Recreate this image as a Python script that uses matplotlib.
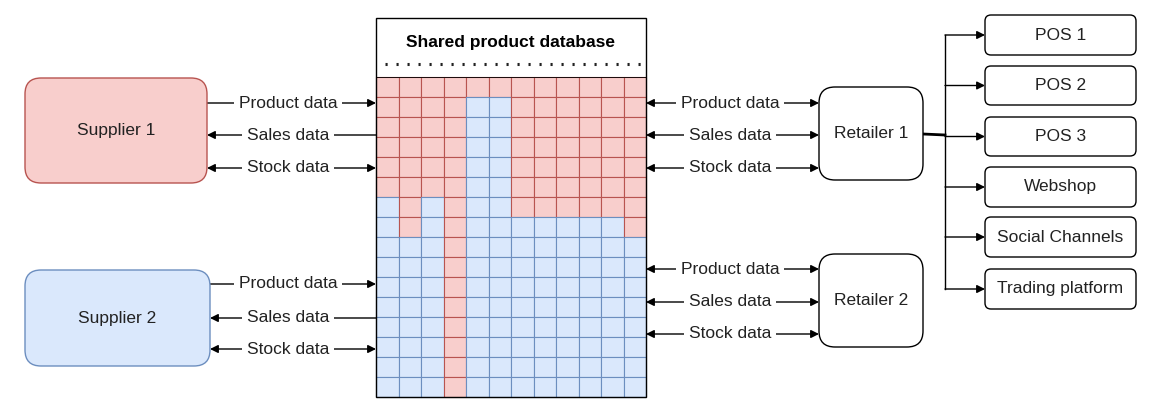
import matplotlib.pyplot as plt
from matplotlib.patches import Rectangle, FancyBboxPatch

plt.rcParams["font.family"] = ["Liberation Sans", "DejaVu Sans"]

# grid: 16 rows x 12 columns, number of red (supplier 1) cells from the top per column
n_rows = 16
red_per_column = [6, 8, 6, 16, 1, 1, 7, 7, 7, 7, 7, 8]

flow_labels = ["Product data", "Sales data", "Stock data"]
suppliers = ["Supplier 1", "Supplier 2"]
retailers = ["Retailer 1", "Retailer 2"]
channels = ["POS 1", "POS 2", "POS 3", "Webshop", "Social Channels", "Trading platform"]

RED_FILL, RED_EDGE = "#f8cecc", "#b85450"
BLUE_FILL, BLUE_EDGE = "#dae8fc", "#6c8ebf"
FS = 12.5
TXT = "#222222"

fig = plt.figure(figsize=(11.61, 4.18), dpi=100)
ax = fig.add_axes([0, 0, 1, 1])
ax.set_xlim(0, 1161)
ax.set_ylim(418, 0)
ax.axis("off")


def rbox(x0, y0, x1, y1, r, fc="white", ec="black", lw=1.0):
    ax.add_patch(FancyBboxPatch((x0, y0), x1 - x0, y1 - y0,
                                boxstyle=f"round,pad=0,rounding_size={r}",
                                fc=fc, ec=ec, lw=lw, zorder=3))


def arrow(x0, x1, y, style, lw=1.0):
    ax.annotate("", xy=(x1, y), xytext=(x0, y),
                arrowprops=dict(arrowstyle=style, color="black", lw=lw,
                                mutation_scale=12, shrinkA=0, shrinkB=0),
                zorder=2)


def label(x, y, s):
    ax.text(x, y, s, ha="center", va="center", fontsize=FS, color=TXT, zorder=4,
            bbox=dict(fc="white", ec="none", pad=3.5))


# shared database
gx0, gx1, gy0, gy1 = 376, 646, 77, 397
cw = (gx1 - gx0) / len(red_per_column)
rh = (gy1 - gy0) / n_rows
for c, nred in enumerate(red_per_column):
    for r in range(n_rows):
        red = r < nred
        ax.add_patch(Rectangle((gx0 + c * cw, gy0 + r * rh), cw, rh,
                               fc=RED_FILL if red else BLUE_FILL,
                               ec=RED_EDGE if red else BLUE_EDGE, lw=0.8, zorder=1))
ax.add_patch(Rectangle((gx0, 18), gx1 - gx0, gy1 - 18, fc="none", ec="black", lw=1.0, zorder=3))
ax.plot([gx0, gx1], [gy0, gy0], color="black", lw=0.6, zorder=3)
ax.text((gx0 + gx1) / 2, 43, "Shared product database", ha="center", va="center",
        fontsize=FS, fontweight="bold")
ax.plot([385, 642], [64, 64], color="#222222", lw=2.2, linestyle=(0, (0.7, 2.9)))

# suppliers
sup_boxes = [(25, 78, 207, 183), (25, 270, 210, 366)]
sup_colors = [(RED_FILL, RED_EDGE), (BLUE_FILL, BLUE_EDGE)]
sup_rows = [[103, 135, 168], [284, 318, 349]]
for name, (x0, y0, x1, y1), (fc, ec), ys in zip(suppliers, sup_boxes, sup_colors, sup_rows):
    rbox(x0, y0, x1, y1, 16, fc=fc, ec=ec)
    ax.text((x0 + x1) / 2, (y0 + y1) / 2, name, ha="center", va="center", fontsize=FS,
            color=TXT, zorder=4)
    for lab, y, style in zip(flow_labels, ys, ["-|>", "<|-", "<|-|>"]):
        arrow(x1, gx0, y, style)
        label(288, y, lab)

# retailers
ret_boxes = [(819, 87, 923, 180), (819, 254, 923, 347)]
ret_rows = [[103, 135, 168], [269, 302, 334]]
for name, (x0, y0, x1, y1), ys in zip(retailers, ret_boxes, ret_rows):
    rbox(x0, y0, x1, y1, 16)
    ax.text((x0 + x1) / 2, (y0 + y1) / 2, name, ha="center", va="center", fontsize=FS,
            color=TXT, zorder=4)
    for lab, y in zip(flow_labels, ys):
        arrow(gx1, x0, y, "<|-|>")
        label(730, y, lab)

# sales channels
ch_boxes = [(15, 55), (66, 105), (117, 156), (167, 207), (217, 257), (269, 309)]
bus_x = 945
centers = [(y0 + y1) / 2 for y0, y1 in ch_boxes]
ax.plot([bus_x, bus_x], [centers[0], centers[-1]], color="black", lw=1.0, zorder=2)
ax.plot([923, bus_x], [134, 135], color="black", lw=2.0, zorder=2)
for name, (y0, y1), yc in zip(channels, ch_boxes, centers):
    rbox(985, y0, 1136, y1, 6)
    ax.text((985 + 1136) / 2, yc, name, ha="center", va="center", fontsize=FS,
            color=TXT, zorder=4)
    arrow(bus_x, 985, yc, "-|>")

fig.savefig("out.png", dpi=100, facecolor="white")
